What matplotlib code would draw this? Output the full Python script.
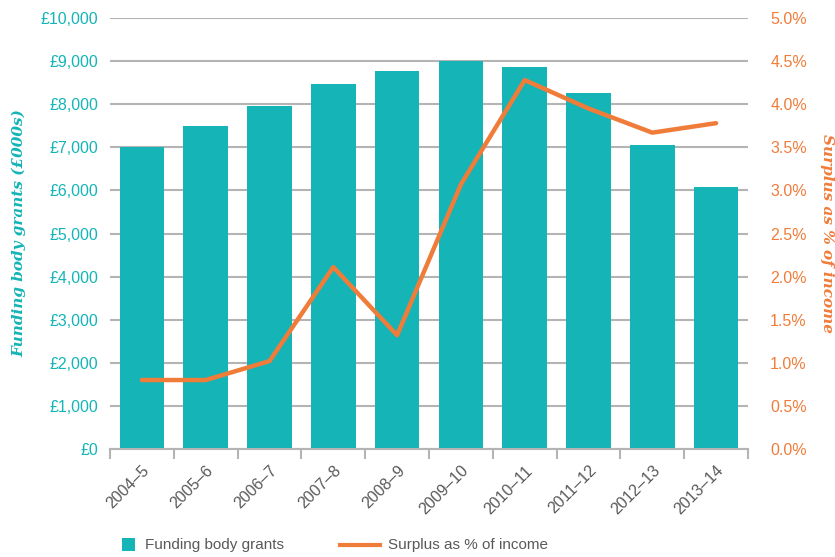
import matplotlib
matplotlib.use("Agg")
import matplotlib.pyplot as plt
import numpy as np
from matplotlib.ticker import FuncFormatter, MultipleLocator
from matplotlib.patches import Rectangle
from matplotlib.lines import Line2D

years = ["2004–5", "2005–6", "2006–7", "2007–8", "2008–9",
         "2009–10", "2010–11", "2011–12", "2012–13", "2013–14"]
grants = [7000, 7500, 7950, 8470, 8770, 9000, 8860, 8260, 7050, 6080]
surplus_pct = [0.80, 0.80, 1.02, 2.11, 1.32, 3.07, 4.28, 3.95, 3.67, 3.78]

TEAL = "#14B4B7"
ORANGE = "#F07C3A"
GREY_TEXT = "#58595B"
GRID = "#B4B4B4"

plt.rcParams["font.family"] = ["Liberation Sans", "DejaVu Sans"]

W, H = 835, 557
fig = plt.figure(figsize=(W / 100, H / 100), dpi=100)
ax = fig.add_axes([110 / W, 1 - 449 / H, (748 - 110) / W, (449 - 18) / H])
ax2 = ax.twinx()

x = np.arange(len(years))
ax.bar(x, grants, width=0.7, color=TEAL, zorder=2)
ax.set_xlim(-0.5, len(years) - 0.5)
ax.set_ylim(0, 10000)
ax.yaxis.set_major_locator(MultipleLocator(1000))
ax.yaxis.set_major_formatter(FuncFormatter(lambda v, p: f"£{int(v):,}"))
ax.grid(axis="y", color=GRID, linewidth=1.5, zorder=0)
ax.set_axisbelow(True)

ax2.plot(x, surplus_pct, color=ORANGE, linewidth=3.2, zorder=3, solid_capstyle="round")
ax2.set_ylim(0, 5)
ax2.yaxis.set_major_locator(MultipleLocator(0.5))
ax2.yaxis.set_major_formatter(FuncFormatter(lambda v, p: f"{v:.1f}%"))

for a in (ax, ax2):
    for s in ("top", "left", "right"):
        a.spines[s].set_visible(False)
ax.spines["bottom"].set_color(GRID)
ax.spines["bottom"].set_linewidth(1.5)
ax2.spines["bottom"].set_visible(False)

# x ticks at category boundaries, labels centred on the bars
ax.set_xticks(np.arange(-0.5, len(years) + 0.5, 1))
ax.set_xticklabels([])
ax.set_xticks(x, minor=True)
ax.set_xticklabels(years, minor=True, rotation=45, ha="right", rotation_mode="anchor",
                   color=GREY_TEXT, fontsize=11.5)
ax.tick_params(axis="x", which="major", length=7, width=1.5, color=GRID)
ax.tick_params(axis="x", which="minor", length=0, pad=10)

ax.tick_params(axis="y", length=0, labelcolor=TEAL, labelsize=11.5, pad=8.5)
ax2.tick_params(axis="y", length=0, labelcolor=ORANGE, labelsize=11.5, pad=16)

ax.set_ylabel("Funding body grants (£000s)", family=["DejaVu Serif"], style="italic",
              weight="bold", color=TEAL, fontsize=11)
ax2.set_ylabel("Surplus as % of income", family=["DejaVu Serif"], style="italic",
               weight="bold", color=ORANGE, fontsize=11, rotation=-90)
ax.yaxis.set_label_coords(-84 / 638, 0.5)
ax2.yaxis.set_label_coords(1 + 86 / 638, 0.5)

# legend drawn in figure pixel coordinates
def fx(px):
    return px / W

def fy(py):
    return 1 - py / H

fig.add_artist(Rectangle((fx(122), fy(551)), 13 / W, 13 / H, transform=fig.transFigure,
                         facecolor=TEAL, edgecolor="none"))
fig.text(fx(145), fy(545), "Funding body grants", color=GREY_TEXT, fontsize=11,
         va="center", ha="left")
fig.add_artist(Line2D([fx(340), fx(380)], [fy(545), fy(545)], transform=fig.transFigure,
                      color=ORANGE, linewidth=3))
fig.text(fx(388), fy(545), "Surplus as % of income", color=GREY_TEXT, fontsize=11,
         va="center", ha="left")

fig.savefig("out.png", dpi=100)
